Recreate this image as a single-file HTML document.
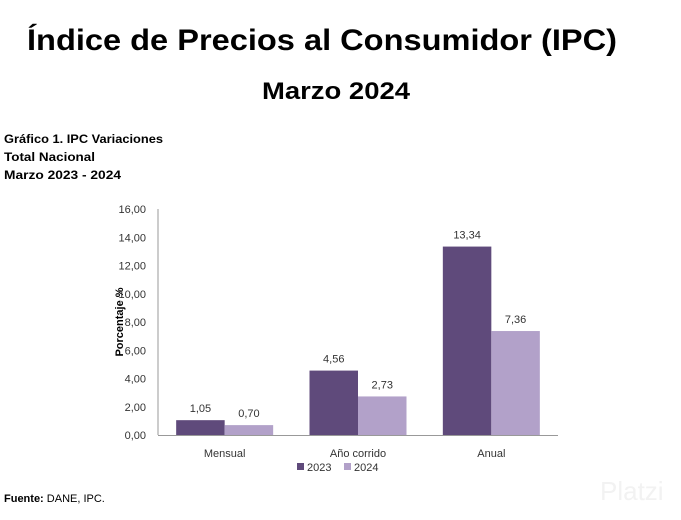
<!DOCTYPE html>
<html><head><meta charset="utf-8"><style>
body{margin:0;background:#fff;}
svg{display:block;font-family:"Liberation Sans",sans-serif;}
</style></head><body>
<svg id="c" width="681" height="520" viewBox="0 0 681 520">
<text x="322" y="50" text-anchor="middle" font-size="30" font-weight="bold" textLength="590" lengthAdjust="spacingAndGlyphs">Índice de Precios al Consumidor (IPC)</text>
<text x="336" y="99" text-anchor="middle" font-size="24" font-weight="bold" textLength="148" lengthAdjust="spacingAndGlyphs">Marzo 2024</text>
<text x="4" y="143" font-size="12" font-weight="bold" textLength="159" lengthAdjust="spacingAndGlyphs">Gráfico 1. IPC Variaciones</text>
<text x="4" y="161" font-size="12" font-weight="bold" textLength="91" lengthAdjust="spacingAndGlyphs">Total Nacional</text>
<text x="4" y="179" font-size="12" font-weight="bold" textLength="117" lengthAdjust="spacingAndGlyphs">Marzo 2023 - 2024</text>
<text transform="translate(123,322) rotate(-90)" text-anchor="middle" font-size="11" font-weight="bold">Porcentaje %</text>
<g id="plot"></g>
<rect x="297" y="463" width="7" height="7" fill="#5f4a7b"/>
<text x="307" y="471" font-size="11" fill="#333">2023</text>
<rect x="344" y="463" width="7" height="7" fill="#b2a1c9"/>
<text x="354" y="471" font-size="11" fill="#333">2024</text>
<text x="4" y="502" font-size="11"><tspan font-weight="bold">Fuente:</tspan> DANE, IPC.</text>
<text x="600" y="500" font-size="26" fill="#f2f2f2">Platzi</text>
</svg>
<script>
const categories=["Mensual","Año corrido","Anual"];
const values2023=[1.05,4.56,13.34];
const values2024=[0.70,2.73,7.36];
const yTicks=[0,2,4,6,8,10,12,14,16];
const NS="http://www.w3.org/2000/svg";
const g=document.getElementById('plot');
const x0=158,x1=558,yBase=435,yTop=209,yMax=16;
const y=v=>yBase-(v/yMax)*(yBase-yTop);
const band=(x1-x0)/categories.length;
const cx=i=>x0+band*(i+0.5);
const bw=48.5;
const fmt=v=>v.toFixed(2).replace('.',',');
function mk(t,a){const e=document.createElementNS(NS,t);for(const k in a)e.setAttribute(k,a[k]);g.appendChild(e);return e;}
yTicks.forEach(t=>{const e=mk('text',{x:146,y:y(t)+4,'text-anchor':'end','font-size':11,fill:'#333'});e.textContent=fmt(t);

});
categories.forEach((c,i)=>{
 [[values2023,'#5f4a7b',-bw,'2023'],[values2024,'#b2a1c9',0,'2024']].forEach(([arr,col,off,s])=>{
  const v=arr[i];
  const r=mk('rect',{x:cx(i)+off,y:y(v),width:bw,height:yBase-y(v),fill:col});
  
  
  const l=mk('text',{x:cx(i)+off+bw/2,y:y(v)-8,'text-anchor':'middle','font-size':11,fill:'#333'});
  l.textContent=fmt(v);
  
  
 });
 const t=mk('text',{x:cx(i),y:457,'text-anchor':'middle','font-size':11,fill:'#333'});t.textContent=c;
 
 
});
const ya=mk('line',{x1:x0,y1:yTop,x2:x0,y2:yBase,stroke:'#999','stroke-width':1});


const xa=mk('line',{x1:x0,y1:yBase+0.5,x2:x1,y2:yBase+0.5,stroke:'#999','stroke-width':1});


</script>
</body></html>
